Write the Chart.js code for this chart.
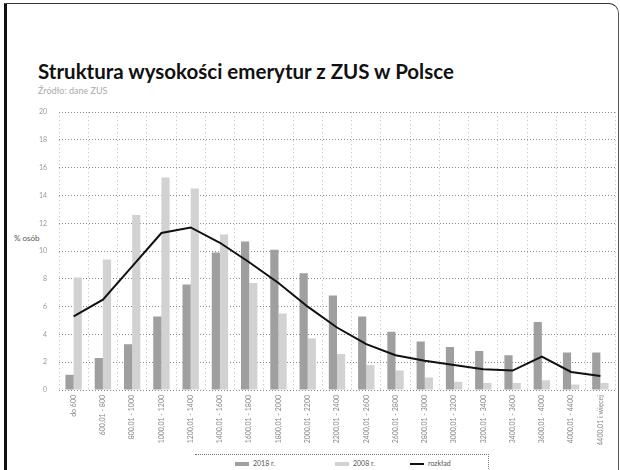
<!DOCTYPE html>
<html>
<head>
<meta charset="utf-8">
<script src="https://cdn.jsdelivr.net/npm/chart.js@4/dist/chart.umd.min.js"></script>
<style>
  body { margin: 0; background: #fff; width: 620px; height: 470px; overflow: hidden; position: relative; font-family: Lato, sans-serif; }
  #frame { position: absolute; left: 4px; top: 3px; width: 611px; height: 480px; border-left: 3px solid #111; border-top: 1px solid #333; border-right: 1px solid #555; border-top-right-radius: 10px; }
  h1 { position: absolute; left: 38px; top: 59px; margin: 0; font-size: 20.5px; font-weight: bold; color: #111; }
  #sub { position: absolute; left: 38px; top: 85px; font-size: 9px; color: #aaa; }
  #ytitle { position: absolute; left: 14px; top: 233px; font-size: 8px; color: #555; }
  #wrap { position: absolute; left: 0; top: 96px; width: 620px; height: 374px; }
  #legbox { position: absolute; left: 195px; top: 454px; width: 293px; height: 30px; border-top: 1px dotted #777; border-right: 1px dotted #777; background: #fff; }
  .leg { position: absolute; top: 459px; font-size: 7px; color: #555; white-space: nowrap; }
  .sw { display: inline-block; width: 14px; height: 4px; vertical-align: middle; margin-right: 4px; }
</style>
</head>
<body>
<div id="frame"></div>
<h1>Struktura wysokości emerytur z ZUS w Polsce</h1>
<div id="sub">Źródło: dane ZUS</div>
<div id="ytitle">% osób</div>
<div id="wrap"><canvas id="chart"></canvas></div>
<div id="legbox"></div>
<div id="legend"></div>

<script>
// przedziały wysokości emerytury (zł)
const categories = [
  "do 600", "600,01 - 800", "800,01 - 1000", "1000,01 - 1200",
  "1200,01 - 1400", "1400,01 - 1600", "1600,01 - 1800", "1800,01 - 2000",
  "2000,01 - 2200", "2200,01 - 2400", "2400,01 - 2600", "2600,01 - 2800",
  "2800,01 - 3000", "3000,01 - 3200", "3200,01 - 3400", "3400,01 - 3600",
  "3600,01 - 4000", "4000,01 - 4400", "4400,01 i więcej"
];

const seriesNames = ["2018 r.", "2008 r.", "rozkład"];
const seriesColors = ["#9f9f9f", "#d2d2d2", "#111"];

const darkBars  = [1.1, 2.3, 3.3, 5.3, 7.6, 9.9, 10.7, 10.1, 8.4, 6.8, 5.3, 4.2, 3.5, 3.1, 2.8, 2.5, 4.9, 2.7, 2.7];
const lightBars = [8.1, 9.4, 12.6, 15.3, 14.5, 11.2, 7.7, 5.5, 3.7, 2.6, 1.8, 1.4, 0.9, 0.6, 0.5, 0.5, 0.7, 0.4, 0.5];
const lineVals  = [5.3, 6.5, 8.9, 11.3, 11.7, 10.6, 9.2, 7.7, 6.0, 4.5, 3.3, 2.5, 2.1, 1.8, 1.5, 1.4, 2.4, 1.3, 1.0];

const yTicks = { min: 0, max: 20, step: 2 };

// legenda pod wykresem
const legendX = [235, 335, 410];
seriesNames.forEach((name, i) => {
  const el = document.createElement("div");
  el.className = "leg";
  el.style.left = legendX[i] + "px";
  const h = i === 2 ? 2 : 4;
  el.innerHTML = `<span class="sw" style="background:${seriesColors[i]};height:${h}px"></span>${name}`;
  document.getElementById("legend").appendChild(el);
});

const ctx = document.getElementById("chart").getContext("2d");
new Chart(ctx, {
  data: {
    labels: categories,
    datasets: [
      { type: "bar", label: seriesNames[0], data: darkBars, backgroundColor: seriesColors[0], order: 1 },
      { type: "bar", label: seriesNames[1], data: lightBars, backgroundColor: seriesColors[1], order: 2 },
      { type: "line", label: seriesNames[2], data: lineVals, borderColor: seriesColors[2], backgroundColor: seriesColors[2],
        borderWidth: 2, pointRadius: 0, tension: 0, order: 0 }
    ]
  },
  options: {
    responsive: true,
    maintainAspectRatio: false,
    animation: false,
    layout: { padding: { top: 0, right: 5, left: 0, bottom: 25 } },
    datasets: { bar: { categoryPercentage: 0.56, barPercentage: 1.0 } },
    scales: {
      x: {
        grid: { offset: true, color: "#bbb", drawTicks: false },
        border: { display: false, dash: [1, 3] },
        ticks: { autoSkip: false, maxRotation: 90, minRotation: 90, padding: 5,
                 font: { family: "Lato", size: 7 }, color: "#888" },
        afterFit: (scale) => { scale.height = 55; }
      },
      y: {
        min: yTicks.min, max: yTicks.max,
        grid: { color: "#888", drawTicks: false },
        border: { display: false, dash: [1, 2] },
        ticks: { stepSize: yTicks.step, padding: 12, font: { family: "Lato", size: 7 }, color: "#999" },
        afterFit: (scale) => { scale.width = 59; }
      }
    },
    plugins: {
      tooltip: { enabled: false },
      legend: { display: false }
    }
  }
});
</script>
</body>
</html>
